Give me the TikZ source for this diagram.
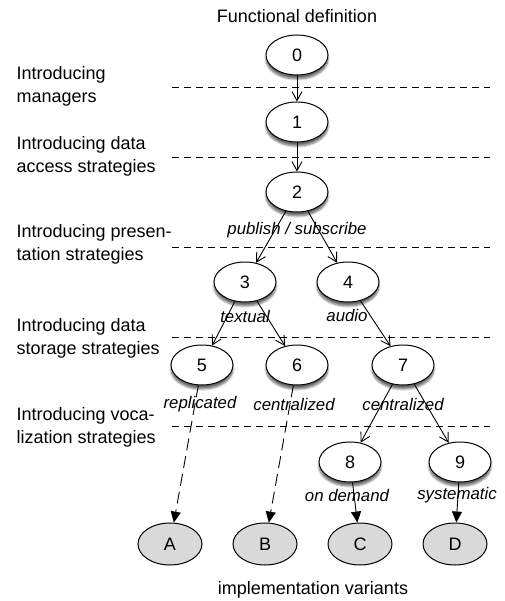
\documentclass[tikz,border=0pt]{standalone}
\usepackage{fontspec}
\setmainfont{Liberation Sans}
\usetikzlibrary{shapes.geometric, arrows.meta, shadows.blur, positioning}

\begin{document}
\begin{tikzpicture}[
    x=1pt, y=-1pt,
    state/.style={ellipse, draw=black, line width=1pt, fill=white, minimum width=62pt, minimum height=40pt, inner sep=0pt, font=\fontsize{18}{20}\selectfont, blur shadow={shadow xshift=0pt, shadow yshift=-4pt, shadow blur steps=6, shadow opacity=60}},
    variant/.style={ellipse, draw=black, line width=1pt, fill=gray!30, minimum width=64pt, minimum height=42pt, inner sep=0pt, font=\fontsize{18}{20}\selectfont},
    level/.style={anchor=west, align=left, font=\fontsize{18}{23}\selectfont},
    caption/.style={font=\fontsize{18}{20}\selectfont},
    lbl/.style={font=\fontsize{16.8}{20}\selectfont\itshape, inner sep=1pt},
    sep/.style={line width=0.9pt, dash pattern=on 7pt off 5pt},
    arrow/.style={-{Straight Barb[length=9pt, width=10pt]}, line width=0.9pt},
    vararrow/.style={-{Triangle[length=11pt, width=10pt]}, line width=0.9pt},
    dvararrow/.style={vararrow, dash pattern=on 12pt off 6pt}
]
\useasboundingbox (0,0) rectangle (504,601);

% Level separators and labels
\foreach \y in {87,157,247,337,426}
    \draw[sep] (172,\y) -- (490,\y);
\node[level] (lvl1) at (13,86) {Introducing\\managers};
\node[level] (lvl2) at (13,156) {Introducing data\\access strategies};
\node[level] (lvl3) at (13,244) {Introducing presen-\\tation strategies};
\node[level] (lvl4) at (13,338) {Introducing data\\storage strategies};
\node[level] (lvl5) at (13,427) {Introducing voca-\\lization strategies};

% Refinement tree
\node[caption] (func) at (297,16) {Functional definition};
\node[state] (n0) at (297,55) {0};
\node[state] (n1) at (297,122) {1};
\node[state] (n2) at (297,192) {2};
\node[state] (n3) at (245,282) {3};
\node[state] (n4) at (348,282) {4};
\node[state] (n5) at (202,365) {5};
\node[state] (n6) at (297,365) {6};
\node[state] (n7) at (403,365) {7};
\node[state] (n8) at (350,462) {8};
\node[state] (n9) at (460,462) {9};

% Implementation variants
\node[variant] (varA) at (170,544) {A};
\node[variant] (varB) at (265,544) {B};
\node[variant] (varC) at (360,544) {C};
\node[variant] (varD) at (455,544) {D};
\node[caption] (impl) at (313,590) {implementation variants};

% Arrows
\draw[arrow] (n0) -- (n1);
\draw[arrow] (n1) -- (n2);
\draw[arrow] (n2) -- (n3);
\draw[arrow] (n2) -- (n4);
\draw[arrow] (n3) -- (n5);
\draw[arrow] (n3) -- (n6);
\draw[arrow] (n4) -- (n7);
\draw[arrow] (n7) -- (n8);
\draw[arrow] (n7) -- (n9);
\draw[dvararrow] (n5) -- (varA);
\draw[dvararrow] (n6) -- (varB);
\draw[vararrow] (n8) -- (varC);
\draw[vararrow] (n9) -- (varD);

% Edge labels
\node[lbl] (pubsub) at (297,230) {publish / subscribe};
\node[lbl] (textual) at (245,316) {textual};
\node[lbl] (audio) at (347,315) {audio};
\node[lbl] (repl) at (200,404) {replicated};
\node[lbl] (central1) at (294,404) {centralized};
\node[lbl] (central2) at (403,404) {centralized};
\node[lbl] (ondemand) at (347,495) {on demand};
\node[lbl] (system) at (457,495) {systematic};

\end{tikzpicture}
\end{document}
